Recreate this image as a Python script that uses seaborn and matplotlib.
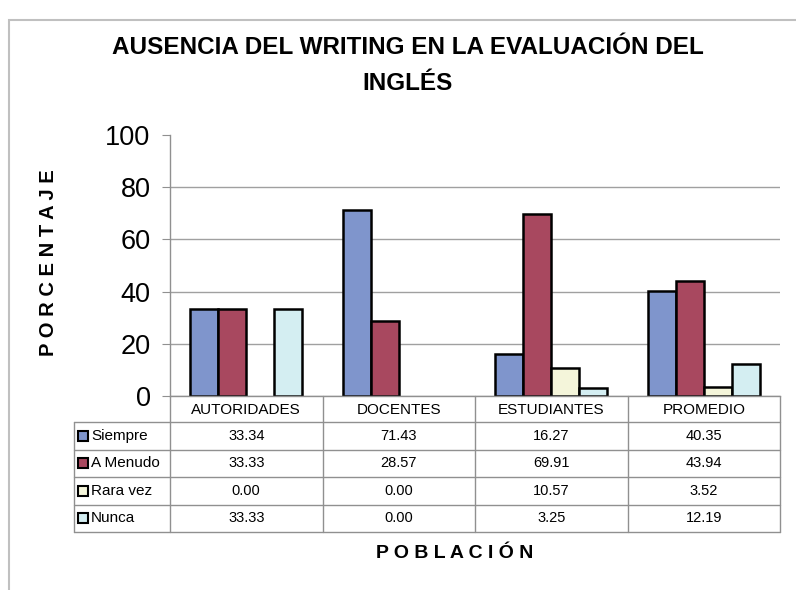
import numpy as np
import pandas as pd
import matplotlib
matplotlib.use('Agg')
import matplotlib.pyplot as plt
import matplotlib.transforms as mtransforms
from matplotlib.patches import Rectangle
from matplotlib.lines import Line2D
import seaborn as sns

# Data
categorias = ['AUTORIDADES', 'DOCENTES', 'ESTUDIANTES', 'PROMEDIO']
series = ['Siempre', 'A Menudo', 'Rara vez', 'Nunca']
siempre = [33.34, 71.43, 16.27, 40.35]
a_menudo = [33.33, 28.57, 69.91, 43.94]
rara_vez = [0.00, 0.00, 10.57, 3.52]
nunca = [33.33, 0.00, 3.25, 12.19]
colores = ['#7F95CC', '#A8485F', '#F4F5DA', '#D4EEF2']

valores = [siempre, a_menudo, rara_vez, nunca]
df = pd.DataFrame({
    'Población': np.tile(categorias, len(series)),
    'Serie': np.repeat(series, len(categorias)),
    'Porcentaje': np.concatenate(valores),
})

sns.set_style('white')
plt.rcParams['font.family'] = ['Liberation Sans', 'DejaVu Sans']
plt.rcParams['text.color'] = 'black'
plt.rcParams['axes.labelcolor'] = 'black'
plt.rcParams['xtick.color'] = 'black'
plt.rcParams['ytick.color'] = 'black'

W, H = 796, 590
fig = plt.figure(figsize=(W / 100, H / 100), dpi=100)

def fx(x):
    return x / W

def fy(y):
    return 1 - y / H

ax = fig.add_axes([fx(170), fy(396), (780 - 170) / W, (396 - 135) / H])

sns.barplot(data=df, x='Población', y='Porcentaje', hue='Serie',
            order=categorias, hue_order=series, palette=colores,
            saturation=1, width=0.734, edgecolor='black', linewidth=1.8,
            legend=False, ax=ax)

# hide zero-height bars
for p in ax.patches:
    if p.get_height() == 0:
        p.set_visible(False)

ax.set_xlim(-0.5, len(categorias) - 0.5)
ax.set_ylim(0, 100)
ax.set_yticks(range(0, 101, 20))
ax.yaxis.grid(True, color='#A0A0A0', linewidth=1)
ax.get_ygridlines()[-1].set_visible(False)
ax.set_axisbelow(True)
for s in ['top', 'right']:
    ax.spines[s].set_visible(False)
for s in ['left', 'bottom']:
    ax.spines[s].set_color('#909090')
    ax.spines[s].set_linewidth(1)
ax.tick_params(axis='y', labelsize=19.5, length=6, color='#909090', labelcolor='black', pad=8, left=True)
ax.tick_params(axis='x', labelsize=11, length=0, labelcolor='black', pad=5)
ax.set_xlabel('')
ax.set_ylabel('P O R C E N T A J E', fontsize=14.5, fontweight='bold', color='black')
ax.yaxis.set_label_coords((58 - 170) / 610, 0.51)

# data table below the axis
blend = mtransforms.blended_transform_factory(ax.transData, fig.transFigure)
lc = '#909090'
row_h = 27.5
top_tab = 422
bot_tab = top_tab + row_h * len(series)
for xb in np.arange(-0.5, len(categorias), 1.0):
    fig.add_artist(Line2D([xb, xb], [fy(396), fy(bot_tab)], transform=blend, color=lc, lw=1))
fig.add_artist(Line2D([fx(74), fx(74)], [fy(top_tab), fy(bot_tab)], transform=fig.transFigure, color=lc, lw=1))
for k in range(len(series) + 1):
    yy = fy(top_tab + row_h * k)
    fig.add_artist(Line2D([fx(74), fx(780)], [yy, yy], transform=fig.transFigure, color=lc, lw=1))

for i, (nombre, vals) in enumerate(zip(series, valores)):
    yc = top_tab + row_h * (i + 0.5)
    fig.add_artist(Rectangle((fx(78), fy(yc + 5)), 10 / W, 10 / H, transform=fig.transFigure,
                             facecolor=colores[i], edgecolor='black', lw=1.5))
    fig.text(fx(91), fy(yc), nombre, fontsize=11, ha='left', va='center')
    for j, v in enumerate(vals):
        fig.text(j, fy(yc), f'{v:.2f}', transform=blend, fontsize=10.5, ha='center', va='center')

fig.text(fx(455), fy(553), 'P O B L A C I Ó N', fontsize=14, fontweight='bold', ha='center', va='center')

fig.text(fx(408), fy(48), 'AUSENCIA DEL WRITING EN LA EVALUACIÓN DEL', fontsize=17.5,
         fontweight='bold', ha='center', va='center')
fig.text(fx(408), fy(84), 'INGLÉS', fontsize=17.5, fontweight='bold', ha='center', va='center')

# outer frame
fig.add_artist(Rectangle((fx(9), fy(610)), (820 - 9) / W, (610 - 20) / H, transform=fig.transFigure,
                         fill=False, edgecolor='#C0C0C0', lw=1.5))

fig.savefig('out.png', dpi=100)
